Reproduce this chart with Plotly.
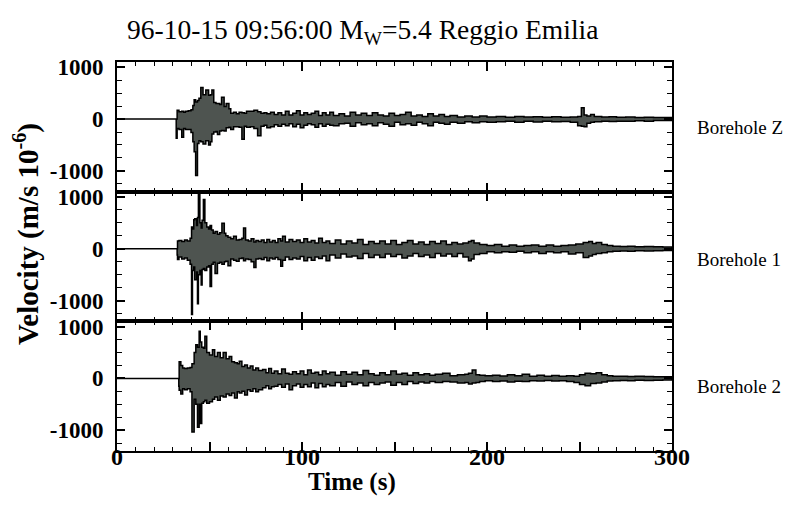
import plotly.graph_objects as go
from plotly.subplots import make_subplots

# ---------------- data ----------------
# Borehole Z : time (s), upper envelope, lower envelope (m/s 1e-6)
z_time = [0, 32, 32.5, 33.5, 35, 36, 37, 38.5, 40, 41, 41.7, 42.5, 43.5, 44.3, 45.3, 46.5, 48, 49.5,
          50.5, 51.3, 52.3, 53.5, 54.3, 55.5, 56.5, 57.9, 59, 60.5, 61.5, 63, 64.5, 66, 67.5, 68.8,
          70, 72, 74, 76, 77.8, 79.5, 81, 83, 85, 87, 89, 91, 93, 95, 97, 99, 101, 103, 105, 107,
          109, 111, 113, 115, 117, 120, 123, 126, 129, 132, 135, 138, 141, 144, 147, 150, 153, 156,
          159, 162, 165, 168, 171, 174, 177, 180, 184, 188, 192, 196, 200, 205, 210, 215, 220, 225,
          230, 235, 240, 245, 249, 251, 252.5, 254, 256, 258, 262, 266, 270, 275, 280, 285, 290,
          295, 300]
z_upper = [0, 0, 170, 140, 150, 130, 150, 160, 180, 260, 370, 330, 360, 400, 610, 470, 560, 460,
           470, 560, 320, 300, 300, 280, 420, 240, 300, 200, 110, 130, 100, 130, 120, 110,
           150, 150, 170, 140, 110, 120, 100, 130, 90, 120, 80, 150, 80, 110, 160, 80, 120, 90, 110, 150,
           70, 120, 80, 130, 70, 100, 60, 130, 80, 110, 70, 120, 80, 60, 110, 70, 90, 130,
           60, 80, 50, 100, 60, 90, 50, 70, 40, 60, 40, 60, 40, 50, 35, 50, 40, 45,
           35, 45, 35, 40, 50, 220, 80, 60, 90, 50, 40, 45, 35, 40, 30, 35, 30,
           30, 30]
z_lower = [0, 0, -370, -180, -200, -350, -180, -200, -200, -260, -440, -630, -1090, -470, -420, -440, -480, -420,
           -500, -440, -290, -250, -240, -300, -230, -220, -230, -170, -160, -200, -150, -150, -160, -390,
           -140, -160, -150, -180, -320, -140, -120, -170, -150, -110, -140, -100, -130, -90, -150, -100, -170, -120, -90, -110,
           -160, -90, -140, -100, -120, -130, -90, -80, -140, -70, -110, -90, -130, -70, -100, -140, -60, -110,
           -90, -120, -60, -90, -130, -60, -80, -100, -60, -80, -50, -70, -50, -60, -50, -40, -60, -40,
           -55, -40, -50, -45, -60, -130, -140, -150, -80, -60, -50, -40, -45, -40, -40, -35, -40,
           -30, -30]

# Borehole 1
b1_time = [0, 32.5, 32.7, 33.5, 35, 36.5, 38, 39.5, 40.3, 40.8, 41.5, 42, 43, 43.5, 44, 44.8, 45.5, 46,
           46.7, 47.5, 48.5, 49.5, 50.3, 51.1, 52, 53, 54.3, 55.5, 56.7, 58, 58.8, 60, 61.5, 63, 64.5,
           66, 67.5, 68.4, 69.5, 71, 72.5, 74, 75.1, 76.5, 78, 79.5, 81, 82.5, 84, 85.5, 87, 88.5, 89.5,
           91, 93, 95, 97, 99, 101, 103, 105, 107, 109, 111, 113, 115, 118, 121, 124, 127, 130, 133,
           136, 139, 142, 145, 148, 151, 154, 157, 160, 163, 166, 169, 172, 175, 178, 181, 184, 187,
           190, 191.5, 193, 196, 200, 204, 208, 212, 216, 220, 224, 228, 232, 236, 240, 244, 248, 252,
           255, 257, 259, 262, 265, 268, 272, 276, 280, 285, 290, 295, 300]
b1_upper = [0, 0, 150, 160, 140, 170, 150, 200, 420, 380, 560, 580, 450, 600, 1050, 500, 400, 550,
            950, 500, 420, 380, 450, 360, 300, 330, 280, 310, 490, 300, 250, 220, 190, 240, 170,
            180, 200, 400, 170, 150, 190, 130, 160, 140, 170, 120, 180, 130, 160, 120, 190, 150, 240,
            130, 180, 140, 170, 120, 190, 130, 160, 110, 200, 120, 150, 100, 170, 90, 150, 110, 180, 80,
            140, 100, 150, 90, 160, 80, 120, 160, 90, 130, 80, 140, 100, 150, 80, 120, 90, 110,
            140, 160, 110, 80, 60, 80, 50, 70, 50, 60, 70, 50, 70, 50, 60, 70, 90, 120,
            140, 100, 120, 80, 60, 50, 45, 50, 40, 45, 40, 35, 35]
b1_lower = [0, 0, -120, -210, -160, -200, -180, -220, -300, -1270, -420, -350, -600, -450, -1060, -500, -420, -700,
            -400, -380, -420, -350, -330, -730, -300, -260, -480, -280, -260, -300, -250, -240, -330, -200, -220,
            -240, -190, -180, -230, -200, -210, -250, -360, -200, -190, -210, -170, -230, -180, -200, -170, -210, -340,
            -220, -160, -210, -180, -200, -150, -230, -170, -220, -160, -190, -140, -230, -120, -180, -100, -160, -140, -190,
            -90, -170, -120, -170, -100, -150, -110, -180, -140, -90, -150, -120, -170, -90, -140, -100, -150, -90,
            -160, -230, -200, -110, -90, -60, -80, -60, -70, -50, -80, -60, -90, -60, -80, -60, -100, -80,
            -170, -140, -110, -90, -80, -60, -50, -45, -50, -40, -45, -40, -35]

# Borehole 2
b2_time = [0, 33.4, 33.6, 34.5, 35.5, 36.5, 38, 39.5, 40.5, 41.7, 42.6, 43.5, 44.4, 45, 45.8, 46.7, 47.5,
           48.5, 50, 51.6, 52.8, 54.3, 55.8, 57.4, 59, 60.6, 62, 63.5, 65, 66.1, 67.5, 69, 70.5, 72,
           73.5, 75, 76.5, 78.7, 80.5, 82, 83.5, 85, 87, 89, 91, 93, 94.9, 97, 99, 101, 103, 105, 107,
           109, 111, 113, 115, 118, 121, 124, 127, 130, 133, 136, 139, 142, 145, 148, 151, 154, 157,
           160, 163, 166, 169, 172, 176, 180, 184, 188, 190, 192, 194, 196, 199, 203, 207, 211, 215,
           219, 223, 227, 231, 235, 239, 243, 247, 250, 253, 256, 259, 262, 265, 268, 272, 276, 280,
           285, 290, 295, 300]
b2_upper = [0, 0, 320, 250, 200, 190, 200, 210, 280, 500, 650, 600, 910, 700, 600, 580, 810,
            500, 450, 550, 420, 500, 400, 500, 380, 420, 320, 300, 280, 330, 230, 260, 200, 240,
            160, 200, 150, 170, 110, 190, 100, 140, 90, 180, 100, 80, 130, 90, 140, 70, 160, 100, 120,
            70, 140, 90, 120, 60, 130, 80, 120, 70, 150, 90, 60, 110, 70, 140, 80, 100, 60,
            110, 70, 90, 60, 80, 100, 50, 70, 80, 100, 160, 70, 60, 50, 60, 45, 70, 50,
            80, 40, 60, 40, 55, 40, 50, 40, 70, 100, 90, 110, 70, 50, 40, 40, 35, 40,
            35, 30, 30, 30]
b2_lower = [0, 0, -150, -230, -300, -200, -220, -200, -260, -1035, -400, -500, -940, -500, -870, -480, -450,
            -420, -480, -450, -400, -360, -420, -340, -360, -300, -330, -280, -380, -260, -280, -250, -320, -220,
            -250, -200, -260, -220, -180, -140, -200, -160, -150, -120, -170, -110, -220, -140, -110, -170, -120, -160, -90,
            -180, -100, -160, -120, -140, -80, -150, -70, -120, -90, -140, -80, -120, -90, -70, -130, -80, -120,
            -60, -100, -70, -90, -60, -80, -60, -70, -90, -80, -110, -90, -80, -60, -45, -60, -50, -70,
            -55, -60, -45, -50, -40, -50, -45, -60, -80, -120, -140, -100, -90, -70, -50, -45, -40, -45,
            -35, -40, -35, -30]

traces = [(z_time, z_upper, z_lower), (b1_time, b1_upper, b1_lower), (b2_time, b2_upper, b2_lower)]
panel_labels = ["Borehole Z", "Borehole 1", "Borehole 2"]
x_ticks = [0, 50, 100, 150, 200, 250, 300]
x_ticktext = ["0", "", "100", "", "200", "", "300"]
y_ticks = [-1000, 0, 1000]
y_ticktext = ["-1000", "0", "1000"]
title_text = "96-10-15 09:56:00 M<sub>W</sub>=5.4 Reggio Emilia"
x_title = "Time (s)"
y_title = "Velocity (m/s 10<sup>-6</sup>)"

# ---------------- figure ----------------
SERIF = "Liberation Serif"
OFF = 8  # page body margin
W, H = 799 - OFF, 510 - OFF
L, R, T, B = 117 - OFF, 127, 62 - OFF, 59
pw, ph = W - L - R, H - T - B

def px(xr):
    return (xr - OFF - L) / pw

def py(yr):
    return (H - B - (yr - OFF)) / ph

fig = make_subplots(rows=3, cols=1, shared_xaxes=True, vertical_spacing=0)

for i, (t, up, lo) in enumerate(traces, start=1):
    xs = list(t) + list(t)[::-1]
    ys = list(up) + list(lo)[::-1]
    fig.add_trace(go.Scatter(x=xs, y=ys, mode="lines", fill="toself", line_shape="hv",
                             fillcolor="#4e5450", line=dict(color="black", width=1.5),
                             hoverinfo="skip", showlegend=False), row=i, col=1)

axis_common = dict(showline=True, linecolor="black", linewidth=2, mirror="ticks",
                   ticks="inside", tickcolor="black", showgrid=False, zeroline=False)

for i in range(1, 4):
    fig.update_xaxes(range=[0, 300], tickvals=x_ticks, ticktext=x_ticktext, ticklen=9, tickwidth=1.5,
                     minor=dict(dtick=10, ticklen=4, tickcolor="black", tickwidth=1.2, ticks="inside"),
                     showticklabels=(i == 3), ticklabelstandoff=-17,
                     tickfont=dict(family=SERIF, size=24, color="black", weight="bold"),
                     row=i, col=1, **axis_common)
    fig.update_yaxes(range=[-1400, 1100], tickvals=y_ticks, ticktext=y_ticktext, ticklen=8, tickwidth=1.5,
                     minor=dict(tickvals=[-1250, -750, -500, -250, 250, 500, 750], ticklen=5,
                                tickcolor="black", tickwidth=1.2, ticks="inside"),
                     tickfont=dict(family=SERIF, size=23, color="black", weight="bold"),
                     ticklabelstandoff=7,
                     row=i, col=1, **axis_common)

annotations = [
    dict(text=title_text, x=px(362), y=py(32), xref="paper", yref="paper", showarrow=False,
         xanchor="center", yanchor="middle", font=dict(family=SERIF, size=27.5, color="black")),
    dict(text=x_title, x=px(352), y=py(482), xref="paper", yref="paper", showarrow=False,
         xanchor="center", yanchor="middle", font=dict(family=SERIF, size=25, color="black", weight="bold")),
    dict(text=y_title, x=px(26), y=py(234), xref="paper", yref="paper", showarrow=False, textangle=-90,
         xanchor="center", yanchor="middle", font=dict(family=SERIF, size=29, color="black", weight="bold")),
]
for lbl, yp in zip(panel_labels, [127, 260, 386]):
    annotations.append(dict(text=lbl, x=px(695), y=py(yp), xref="paper", yref="paper", showarrow=False,
                            xanchor="left", yanchor="middle",
                            font=dict(family=SERIF, size=19, color="black")))

fig.update_layout(width=W, height=H, margin=dict(l=L, r=R, t=T, b=B),
                  paper_bgcolor="white", plot_bgcolor="white", annotations=annotations)

fig.write_html("out.html")
